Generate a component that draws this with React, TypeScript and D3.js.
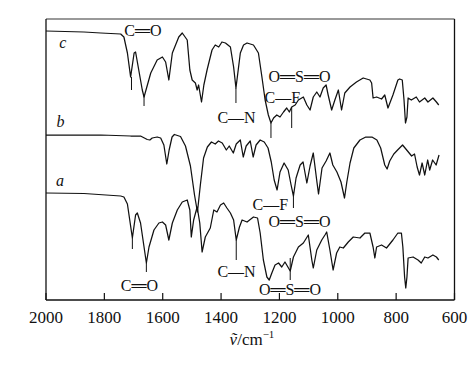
import React from "react";
import * as d3 from "d3";

// wavenumber (cm^-1), relative transmittance (a.u., curves stacked)
const seriesC: [number, number][] = [
  [2000, 269], [1870, 268], [1812, 267], [1744, 266], [1733, 263], [1721, 247], [1710, 223],
  [1698, 247], [1693, 248], [1670, 210], [1664, 203], [1641, 227], [1619, 240], [1601, 243],
  [1590, 238], [1579, 220], [1567, 247], [1545, 263], [1533, 267], [1516, 260], [1507, 230],
  [1499, 220], [1488, 217], [1482, 210], [1477, 215], [1467, 198], [1459, 215], [1448, 230],
  [1437, 243], [1431, 250], [1420, 255], [1408, 253], [1397, 258], [1385, 257], [1368, 253],
  [1357, 233], [1349, 212], [1334, 247], [1323, 255], [1311, 257], [1289, 255], [1272, 247],
  [1260, 223], [1249, 200], [1238, 185], [1229, 177], [1220, 182], [1209, 185], [1198, 183],
  [1186, 188], [1175, 192], [1166, 188], [1158, 193], [1146, 195], [1135, 200], [1118, 203],
  [1106, 195], [1095, 190], [1084, 203], [1072, 208], [1061, 203], [1050, 212], [1040, 215],
  [1033, 205], [1021, 190], [1010, 200], [998, 210], [987, 190], [976, 207], [958, 213],
  [936, 218], [913, 222], [890, 220], [884, 217], [879, 202], [867, 203], [850, 201],
  [839, 205], [828, 192], [811, 205], [794, 220], [788, 221], [779, 220], [773, 200],
  [768, 177], [763, 183], [759, 202], [748, 200], [731, 203], [720, 198], [702, 202],
  [691, 198], [674, 202], [662, 198], [654, 195],
];

const seriesB: [number, number][] = [
  [2000, 165], [1812, 165], [1710, 164], [1676, 164], [1653, 160.5], [1644, 160], [1636, 162],
  [1619, 163], [1607, 162], [1596, 155], [1586, 136], [1578, 150], [1568, 163], [1560, 165.5],
  [1539, 163.5], [1522, 154], [1505, 134], [1491, 105], [1481, 88], [1471, 115], [1460, 142],
  [1447, 153], [1433, 158], [1420, 156], [1409, 159], [1396, 157], [1382, 150], [1372, 154],
  [1358, 147], [1348, 156], [1334, 160], [1324, 143], [1314, 154], [1300, 159], [1290, 143],
  [1280, 155], [1266, 160], [1252, 158], [1239, 152], [1228, 138], [1218, 120], [1208, 110],
  [1198, 128], [1184, 137], [1170, 130], [1160, 115], [1152, 104], [1143, 122], [1129, 135],
  [1119, 138], [1106, 117], [1095, 134], [1084, 147], [1071, 117], [1066, 106], [1054, 132],
  [1040, 139], [1027, 147], [1017, 135], [1003, 128], [989, 118], [977, 102], [969, 118],
  [958, 137], [945, 152], [924, 160], [904, 163], [883, 163], [866, 160], [853, 152],
  [839, 135], [831, 131], [822, 139], [808, 146], [795, 150], [778, 155], [761, 149],
  [747, 144], [737, 146], [728, 133], [720, 125], [711, 137], [702, 125], [692, 140],
  [685, 130], [675, 140], [663, 135], [653, 145],
];

const seriesA: [number, number][] = [
  [2000, 107], [1870, 106.5], [1744, 104], [1733, 103], [1721, 96], [1713, 80], [1704, 62],
  [1693, 85], [1687, 87], [1676, 77], [1664, 53], [1656, 37], [1647, 53], [1630, 70],
  [1613, 77], [1601, 78], [1590, 75], [1579, 60], [1567, 77], [1550, 90], [1533, 98],
  [1516, 100], [1507, 90], [1502, 63], [1494, 80], [1482, 93], [1473, 77], [1465, 48],
  [1454, 63], [1437, 72], [1425, 90], [1414, 88], [1402, 95], [1391, 97], [1380, 92],
  [1368, 87], [1357, 80], [1348, 60], [1337, 73], [1328, 80], [1311, 78], [1289, 83],
  [1275, 82], [1266, 67], [1255, 40], [1243, 23], [1235, 20], [1226, 27], [1215, 35],
  [1203, 37], [1192, 33], [1181, 38], [1169, 32], [1163, 29], [1152, 43], [1135, 53],
  [1118, 57], [1101, 65], [1089, 40], [1084, 32], [1072, 50], [1055, 60], [1044, 65],
  [1038, 68], [1027, 50], [1016, 30], [1004, 47], [993, 53], [981, 52], [964, 58],
  [947, 63], [924, 62], [907, 67], [890, 67], [879, 53], [873, 42], [867, 53], [850, 55],
  [833, 52], [811, 60], [794, 67], [782, 67], [777, 53], [771, 23], [767, 12], [763, 23],
  [759, 42], [742, 43], [725, 40], [714, 37], [702, 43], [691, 42], [674, 45], [662, 43],
  [654, 40],
];

// peak marker lines: [wavenumber, from, to]
const markersC: [number, number, number][] = [
  [1707, 223, 210], [1664, 205, 194], [1349, 212, 197], [1229, 177, 162], [1158, 193, 172],
];
const markersB: [number, number, number][] = [[1152, 104, 92]];
const markersA: [number, number, number][] = [
  [1704, 62, 51], [1656, 37, 28], [1348, 60, 40], [1163, 42, 20],
];

// annotations: [text, wavenumber, value]; "=" marks a double bond
const annotations: [string, number, number][] = [
  ["C=O", 1668, 264],
  ["C\u2014N", 1347, 177],
  ["O=S=O", 1131, 218],
  ["C\u2014F", 1190, 197],
  ["C\u2014F", 1231, 90],
  ["O=S=O", 1131, 73],
  ["C\u2014N", 1347, 23],
  ["O=S=O", 1164, 5],
  ["C=O", 1680, 9],
];

const seriesLabels: [string, number, number][] = [
  ["c", 1942, 252],
  ["b", 1950, 173],
  ["a", 1952, 114],
];

const xTicks = [2000, 1800, 1600, 1400, 1200, 1000, 800, 600];

const W = 474;
const H = 365;
const FONT = "Liberation Serif, Times New Roman, serif";

function Formula({ text, x, y }: { text: string; x: number; y: number }) {
  const parts = text.split(/(=)/).filter((p) => p.length);
  return (
    <text x={x} y={y} textAnchor="middle" fontSize={16} fill="#111" style={{ fontFamily: FONT }}>
      {parts.map((p, i) =>
        p === "=" ? (
          <tspan key={i} textLength={15} lengthAdjust="spacingAndGlyphs">
            {"\u2550"}
          </tspan>
        ) : (
          <tspan key={i}>{p}</tspan>
        )
      )}
    </text>
  );
}

export default function App() {
  const x = d3.scaleLinear().domain([2000, 600]).range([46, 454.5]);
  const y = d3.scaleLinear().domain([0, 281]).range([300, 19]);
  const line = d3
    .line<[number, number]>()
    .x((d) => x(d[0]))
    .y((d) => y(d[1]));
  const [x0, x1] = x.range();
  const [y0, y1] = y.range();
  const allMarkers = [...markersC, ...markersB, ...markersA];

  return (
    <svg
      width={W}
      height={H}
      style={{ position: "absolute", left: 0, top: 0, background: "#fff", fontFamily: FONT }}
    >
      <rect x={0} y={0} width={W} height={H} fill="#fff" />
      <line x1={x0} y1={y1} x2={x1} y2={y1} stroke="#777" strokeWidth={1.3} />
      <line x1={x1} y1={y1} x2={x1} y2={y0} stroke="#111" strokeWidth={1.3} />
      <line x1={x0} y1={y1} x2={x0} y2={y0} stroke="#111" strokeWidth={1.3} />
      <line x1={x0} y1={y0} x2={x1} y2={y0} stroke="#111" strokeWidth={1.3} />
      {xTicks.map((t) => (
        <g key={t}>
          <line x1={x(t)} x2={x(t)} y1={y0} y2={y0 - 7} stroke="#111" strokeWidth={1.2} />
          <text x={x(t)} y={323} textAnchor="middle" fontSize={17} fill="#111" style={{ fontFamily: FONT }}>
            {t}
          </text>
        </g>
      ))}
      <text x={252} y={345} textAnchor="middle" fontSize={17} fill="#111" style={{ fontFamily: FONT }}>
        <tspan fontStyle="italic">{"\u1E7D"}</tspan>
        <tspan>/cm</tspan>
        <tspan dy={-7} fontSize={11}>{"\u22121"}</tspan>
      </text>
      {[seriesC, seriesB, seriesA].map((s, i) => (
        <path key={i} d={line(s) || ""} fill="none" stroke="#111" strokeWidth={1.25} strokeLinejoin="round" />
      ))}
      {allMarkers.map((m, i) => (
        <line key={i} x1={x(m[0])} x2={x(m[0])} y1={y(m[1])} y2={y(m[2])} stroke="#111" strokeWidth={1} />
      ))}
      {annotations.map((a, i) => (
        <Formula key={i} text={a[0]} x={x(a[1])} y={y(a[2])} />
      ))}
      {seriesLabels.map((l, i) => (
        <text key={i} x={x(l[1])} y={y(l[2])} textAnchor="middle" fontSize={16} fontStyle="italic" fill="#111" style={{ fontFamily: FONT }}>
          {l[0]}
        </text>
      ))}
    </svg>
  );
}
